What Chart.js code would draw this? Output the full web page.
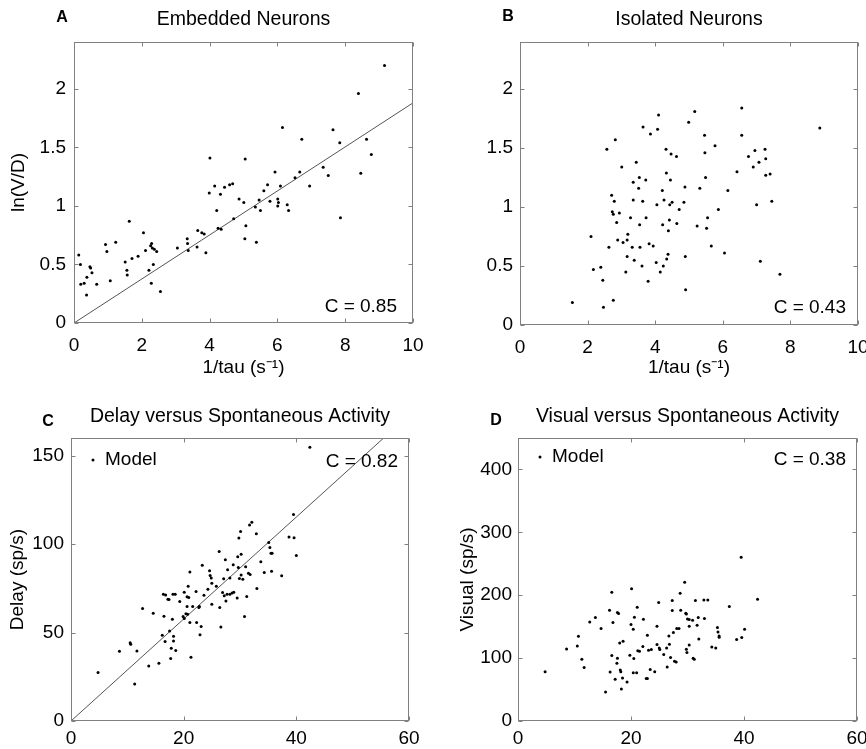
<!DOCTYPE html>
<html>
<head>
<meta charset="utf-8">
<script src="https://cdn.jsdelivr.net/npm/chart.js@4.4.1/dist/chart.umd.min.js"></script>
<style>
  body { margin: 0; background: #fff; }
  #quadro { position: relative; width: 866px; height: 749px; overflow: hidden; background: #fff; }
  canvas { position: absolute; }
</style>
</head>
<body>
<div id="quadro">
  <canvas id="graph_a" width="433" height="385" style="left:0;top:0"></canvas>
  <canvas id="graph_b" width="433" height="385" style="left:433px;top:0"></canvas>
  <canvas id="graph_c" width="433" height="364" style="left:0;top:385px"></canvas>
  <canvas id="graph_d" width="433" height="364" style="left:433px;top:385px"></canvas>
</div>
<script>
// Dados

// A - Embedded Neurons: 1/tau (s^-1) x ln(V/D)
const embX = [0.14, 0.19, 0.20, 0.30, 0.38, 0.37, 0.47, 0.49, 0.53, 0.67, 0.93, 0.97, 1.07, 1.23, 1.51, 1.56, 1.57, 1.63, 1.71, 1.89,
  2.05, 2.11, 2.21, 2.26, 2.29, 2.28, 2.31, 2.34, 2.37, 2.44, 2.55, 3.05, 3.34, 3.35, 3.37, 3.63, 3.65, 3.77, 3.84, 3.89,
  3.99, 4.01, 4.15, 4.21, 4.25, 4.32, 4.34, 4.44, 4.59, 4.68, 4.71, 4.87, 5.01, 5.05, 5.07, 5.04, 5.35, 5.38, 5.46, 5.50,
  5.60, 5.71, 5.78, 5.93, 6.01, 6.03, 6.01, 6.09, 6.15, 6.29, 6.33, 6.52, 6.66, 6.72, 6.95, 7.35, 7.50, 7.64, 7.84, 7.86,
  8.39, 8.46, 8.63, 8.77, 9.16];
const embY = [0.58, 0.50, 0.33, 0.34, 0.39, 0.24, 0.48, 0.47, 0.43, 0.33, 0.67, 0.61, 0.36, 0.69, 0.52, 0.45, 0.41, 0.87, 0.55, 0.57,
  0.77, 0.62, 0.45, 0.66, 0.68, 0.34, 0.64, 0.50, 0.63, 0.61, 0.27, 0.64, 0.72, 0.68, 0.62, 0.65, 0.79, 0.77, 0.76, 0.60,
  1.11, 1.41, 1.17, 0.96, 0.81, 1.10, 0.80, 1.16, 1.18, 1.19, 0.89, 1.06, 1.03, 1.40, 0.83, 0.72, 0.99, 0.69, 1.05, 0.96,
  1.13, 1.18, 1.04, 1.29, 1.06, 1.03, 1.00, 1.17, 1.67, 1.01, 0.96, 1.24, 1.29, 1.57, 1.17, 1.33, 1.26, 1.65, 1.54, 0.90,
  1.96, 1.28, 1.57, 1.44, 2.20];
const retaEmbX = [0, 10];
const retaEmbY = [0, 1.88];

// B - Isolated Neurons
const isoX = [1.55, 2.10, 2.17, 2.39, 2.45, 2.47, 2.57, 2.63, 2.71, 2.73, 2.76, 2.76, 2.79, 2.82, 2.86, 2.89, 2.94, 3.01, 3.05, 3.13,
  3.17, 3.17, 3.19, 3.27, 3.32, 3.35, 3.35, 3.38, 3.44, 3.51, 3.53, 3.54, 3.55, 3.61, 3.63, 3.64, 3.72, 3.73, 3.79, 3.82,
  3.86, 3.94, 4.03, 4.05, 4.07, 4.10, 4.15, 4.21, 4.22, 4.24, 4.26, 4.32, 4.33, 4.34, 4.38, 4.39, 4.42, 4.43, 4.45, 4.47,
  4.50, 4.63, 4.64, 4.71, 4.85, 4.88, 4.89, 4.90, 4.99, 5.17, 5.24, 5.32, 5.46, 5.47, 5.49, 5.52, 5.55, 5.66, 5.77, 5.87,
  6.05, 6.15, 6.42, 6.56, 6.56, 6.76, 6.90, 6.95, 7.00, 7.07, 7.11, 7.25, 7.27, 7.27, 7.40, 7.45, 7.69, 8.87];
const isoY = [0.19, 0.75, 0.47, 0.49, 0.38, 0.15, 1.49, 0.66, 1.10, 0.96, 0.21, 0.94, 1.05, 1.57, 0.87, 0.72, 0.95, 1.34, 0.70, 0.45,
  0.58, 0.72, 0.77, 0.91, 0.66, 1.21, 1.06, 0.55, 1.38, 1.16, 1.25, 0.85, 0.66, 0.50, 1.05, 1.68, 1.23, 0.91, 0.37, 0.69,
  1.62, 0.67, 0.53, 1.02, 1.66, 1.78, 0.45, 1.14, 0.85, 0.50, 1.06, 1.49, 1.29, 0.56, 0.60, 0.80, 0.89, 1.02, 1.23, 1.45,
  1.04, 1.43, 0.86, 0.98, 1.04, 1.17, 0.58, 0.30, 1.72, 1.81, 0.84, 1.16, 1.61, 1.46, 1.25, 0.82, 0.91, 0.67, 1.52, 0.98,
  0.61, 1.14, 1.30, 1.84, 1.61, 1.43, 1.34, 1.48, 1.02, 1.38, 0.54, 1.49, 1.41, 1.27, 1.28, 1.05, 0.43, 1.67];

// C - Delay versus Spontaneous Activity
const delayX = [4.8, 8.6, 10.5, 10.6, 11.3, 11.7, 12.7, 13.8, 14.6, 15.6, 16.2, 16.4, 16.5, 16.7, 16.8, 17.2, 17.4, 17.5, 17.7, 17.8,
  18.0, 18.1, 18.2, 18.2, 18.5, 18.6, 19.3, 19.9, 20.1, 20.1, 20.4, 20.6, 20.6, 20.7, 20.8, 20.9, 21.1, 21.1, 21.3, 21.6,
  22.2, 22.3, 22.7, 22.8, 22.9, 23.1, 23.3, 23.6, 24.3, 24.6, 24.7, 24.9, 25.0, 25.0, 25.8, 26.3, 26.4, 26.6, 26.9, 27.1,
  27.2, 27.4, 27.5, 27.7, 27.8, 28.2, 28.2, 28.6, 28.8, 28.9, 29.5, 29.6, 29.7, 29.8, 29.9, 30.1, 30.2, 30.2, 30.5, 30.8,
  31.0, 31.2, 31.5, 31.7, 31.8, 32.1, 32.9, 33.0, 33.7, 34.3, 35.1, 35.3, 35.5, 35.7, 35.6, 37.4, 38.7, 39.5, 39.6, 40.0, 42.4];
const delayY = [27.4, 39.4, 44.2, 43.4, 20.9, 39.6, 63.6, 31.1, 60.9, 32.6, 48.5, 71.7, 59.2, 44.9, 71.3, 68.9, 68.7, 50.9, 35.3, 41.1,
  57.5, 71.7, 47.9, 45.3, 71.7, 39.8, 67.5, 59.1, 72.8, 57.9, 60.6, 70.2, 64.7, 60.4, 76.2, 69.8, 84.3, 55.7, 36.0, 64.7,
  73.2, 55.7, 64.2, 64.7, 48.7, 53.4, 88.1, 71.1, 74.5, 84.9, 82.3, 80.9, 66.0, 77.9, 76.2, 95.8, 64.2, 53.2, 72.6, 80.4,
  70.8, 91.1, 67.9, 71.7, 85.5, 80.8, 71.7, 72.3, 88.3, 72.8, 69.6, 92.8, 86.8, 103.4, 80.6, 107.2, 82.5, 94.3, 80.2, 59.1,
  87.2, 70.4, 83.6, 110.8, 82.8, 112.3, 105.8, 74.9, 90.0, 84.0, 100.9, 98.1, 94.9, 94.9, 84.7, 82.1, 104.0, 116.8, 103.6, 93.6, 154.7];
const retaDelayX = [0, 55.5];
const retaDelayY = [0, 160];

// D - Visual versus Spontaneous Activity
const visX = [4.8, 8.6, 10.5, 10.7, 11.3, 11.7, 12.7, 13.7, 14.7, 15.5, 16.2, 16.3, 16.6, 16.6, 16.8, 17.2, 17.5, 17.6, 17.8, 17.6,
  18.0, 18.1, 18.2, 18.3, 18.5, 18.6, 19.3, 19.8, 20.0, 20.1, 20.4, 20.4, 20.5, 20.6, 21.0, 21.1, 21.2, 21.5, 22.1, 22.2,
  22.7, 22.9, 22.9, 23.1, 23.4, 23.6, 24.2, 24.6, 24.6, 24.9, 25.0, 25.1, 25.8, 26.3, 26.4, 26.7, 26.8, 27.0, 27.3, 27.3,
  27.5, 27.7, 28.0, 28.1, 28.5, 28.7, 28.8, 29.5, 29.7, 29.8, 29.8, 29.9, 30.0, 30.3, 30.3, 30.3, 30.9, 31.0, 31.2, 31.4,
  31.7, 31.9, 32.0, 32.9, 33.0, 33.6, 34.3, 35.0, 35.3, 35.4, 35.6, 35.6, 37.4, 38.7, 39.5, 39.6, 40.1, 42.4];
const visY = [78.5, 114.6, 119.4, 134.7, 98.1, 84.9, 157.6, 164.5, 146.9, 46.2, 176.1, 78.0, 204.8, 104.0, 156.5, 66.3, 91.8, 172.4, 170.8, 99.7,
  124.1, 81.2, 78.5, 50.9, 68.4, 126.8, 62.1, 104.5, 153.3, 210.1, 145.9, 76.9, 99.2, 165.0, 76.9, 180.9, 111.9, 110.9, 118.3, 161.8,
  67.4, 67.4, 136.3, 112.5, 81.7, 113.5, 78.5, 150.7, 121.5, 188.3, 116.2, 113.5, 105.6, 116.2, 85.9, 135.3, 122.0, 100.8, 191.5, 175.6,
  140.6, 95.0, 93.9, 146.9, 146.9, 203.2, 176.1, 220.7, 171.4, 170.3, 114.1, 108.8, 162.3, 121.0, 150.7, 161.3, 160.2, 99.7, 98.1, 191.5,
  152.3, 164.5, 130.5, 192.6, 162.9, 192.6, 117.8, 116.2, 148.5, 141.6, 135.3, 133.2, 182.0, 129.4, 260.5, 132.6, 145.9, 193.6];

// Marcas dos eixos
const ticksTau = [0, 2, 4, 6, 8, 10];
const ticksLn = [0, 0.5, 1, 1.5, 2];
const ticksSpont = [0, 20, 40, 60];
const ticksDelay = [0, 50, 100, 150];
const ticksVisual = [0, 100, 200, 300, 400];

function juntar(xs, ys) {
  return xs.map((x, i) => ({ x: x, y: ys[i] }));
}

const fonte = "'Liberation Sans', Arial, Helvetica, sans-serif";

// Plugin que desenha a caixa, os ticks internos, a letra, o C e a legenda
const moldura = {
  id: "moldura",
  afterDraw(chart, args, opts) {
    const { ctx, chartArea: a, scales } = chart;
    const l = Math.round(a.left) + 0.5;
    const r = Math.round(a.right) - 0.5;
    const t = Math.round(a.top) + 0.5;
    const b = Math.round(a.bottom) - 0.5;
    ctx.save();
    ctx.strokeStyle = "#808080";
    ctx.lineWidth = 1;
    ctx.strokeRect(l, t, r - l, b - t);
    ctx.beginPath();
    scales.x.ticks.forEach((tk) => {
      const px = Math.round(scales.x.getPixelForValue(tk.value)) + 0.5;
      ctx.moveTo(px, b); ctx.lineTo(px, b - 4);
      ctx.moveTo(px, t); ctx.lineTo(px, t + 4);
    });
    scales.y.ticks.forEach((tk) => {
      const py = Math.round(scales.y.getPixelForValue(tk.value)) + 0.5;
      ctx.moveTo(l, py); ctx.lineTo(l + 4, py);
      ctx.moveTo(r, py); ctx.lineTo(r - 4, py);
    });
    ctx.stroke();

    ctx.fillStyle = "#000";
    ctx.font = "bold 16px " + fonte;
    ctx.textAlign = "center";
    ctx.textBaseline = "middle";
    ctx.fillText(opts.letra, opts.letraX, opts.letraY);

    ctx.font = "19px " + fonte;
    ctx.textAlign = "right";
    ctx.textBaseline = "alphabetic";
    const cy = opts.cEmBaixo ? a.bottom - opts.cDy : a.top + opts.cDy;
    ctx.fillText(opts.textoC, a.right - opts.cDx, cy);

    if (opts.legenda) {
      const ly = a.top + opts.legDy;
      ctx.beginPath();
      ctx.arc(a.left + 22, ly, 1.5, 0, Math.PI * 2);
      ctx.fill();
      ctx.textAlign = "left";
      ctx.textBaseline = "middle";
      ctx.fillText(opts.legenda, a.left + 34, ly);
    }
    ctx.restore();
  },
};

function montarGrafico(idCanvas, pontos, reta, eixos, deco) {
  const datasets = [
    {
      label: "Model",
      data: pontos,
      pointRadius: 1.5,
      pointBackgroundColor: "#000",
      pointBorderWidth: 0,
      order: 1,
    },
  ];
  if (reta) {
    datasets.push({
      label: "fit",
      data: reta,
      showLine: true,
      borderColor: "#555",
      borderWidth: 1,
      pointRadius: 0,
      order: 2,
    });
  }

  return new Chart(document.getElementById(idCanvas), {
    type: "scatter",
    data: { datasets: datasets },
    plugins: [moldura],
    options: {
      responsive: false,
      animation: false,
      events: [],
      layout: { padding: { left: 0, right: deco.padRight, top: 0, bottom: 0 } },
      scales: {
        x: {
          type: "linear",
          min: eixos.xMin,
          max: eixos.xMax,
          grid: { display: false, drawTicks: false },
          border: { display: false },
          afterBuildTicks: (s) => { s.ticks = eixos.xTicks.map((v) => ({ value: v })); },
          afterFit: (s) => { s.height = eixos.xAltura; s.paddingLeft = 0; s.paddingRight = 0; },
          ticks: {
            autoSkip: false,
            maxRotation: 0,
            color: "#000",
            padding: eixos.xPad,
            font: { family: fonte, size: 19 },
            callback: (v) => String(v),
          },
          title: {
            display: !!eixos.xTitulo,
            text: eixos.xTitulo,
            color: "#000",
            font: { family: fonte, size: 19 },
            padding: { top: 0, bottom: 5.6 },
          },
        },
        y: {
          type: "linear",
          min: eixos.yMin,
          max: eixos.yMax,
          grid: { display: false, drawTicks: false },
          border: { display: false },
          afterBuildTicks: (s) => { s.ticks = eixos.yTicks.map((v) => ({ value: v })); },
          afterFit: (s) => { s.width = eixos.yLargura; s.paddingTop = 0; s.paddingBottom = 0; },
          ticks: {
            autoSkip: false,
            color: "#000",
            padding: eixos.yPad,
            font: { family: fonte, size: 19 },
            callback: (v) => String(v),
          },
          title: {
            display: !!eixos.yTitulo,
            text: eixos.yTitulo,
            color: "#000",
            font: { family: fonte, size: 19 },
            padding: { top: eixos.yTitPad, bottom: 0 },
          },
        },
      },
      plugins: {
        legend: { display: false },
        tooltip: { enabled: false },
        title: {
          display: true,
          text: deco.titulo,
          fullSize: false,
          color: "#000",
          font: { family: fonte, size: 19.5, weight: "normal" },
          padding: { top: deco.titPadTop, bottom: deco.titPadBottom },
        },
        moldura: deco.moldura,
      },
    },
  });
}

// A
montarGrafico("graph_a", juntar(embX, embY), juntar(retaEmbX, retaEmbY),
  { xMin: 0, xMax: 10, yMin: 0, yMax: 2.4, xTicks: ticksTau, yTicks: ticksLn, xAltura: 62, yLargura: 74,
    xPad: 11, yPad: 8, xTitulo: "1/tau (s\u207B\u00B9)", yTitulo: "ln(V/D)", yTitPad: 7.6 },
  { padRight: 20, titulo: "Embedded Neurons", titPadTop: 8.3, titPadBottom: 10.3,
    moldura: { letra: "A", letraX: 62, letraY: 18, textoC: "C = 0.85", cEmBaixo: true, cDx: 16, cDy: 11 } });

// B
montarGrafico("graph_b", juntar(isoX, isoY), null,
  { xMin: 0, xMax: 10, yMin: 0, yMax: 2.4, xTicks: ticksTau, yTicks: ticksLn, xAltura: 60, yLargura: 87,
    xPad: 11, yPad: 7, xTitulo: "1/tau (s\u207B\u00B9)", yTitulo: "", yTitPad: 0 },
  { padRight: 8, titulo: "Isolated Neurons", titPadTop: 8.3, titPadBottom: 10.3,
    moldura: { letra: "B", letraX: 75, letraY: 17, textoC: "C = 0.43", cEmBaixo: true, cDx: 12, cDy: 12 } });

// C
montarGrafico("graph_c", juntar(delayX, delayY), juntar(retaDelayX, retaDelayY),
  { xMin: 0, xMax: 60, yMin: 0, yMax: 160, xTicks: ticksSpont, yTicks: ticksDelay, xAltura: 28, yLargura: 71,
    xPad: 6, yPad: 7, xTitulo: "", yTitulo: "Delay (sp/s)", yTitPad: 6.6 },
  { padRight: 24, titulo: "Delay versus Spontaneous Activity", titPadTop: 20.3, titPadBottom: 9.3,
    moldura: { letra: "C", letraX: 48, letraY: 37, textoC: "C = 0.82", cEmBaixo: false, cDx: 11, cDy: 29, legenda: "Model", legDy: 22 } });

// D
montarGrafico("graph_d", juntar(visX, visY), null,
  { xMin: 0, xMax: 60, yMin: 0, yMax: 450, xTicks: ticksSpont, yTicks: ticksVisual, xAltura: 28, yLargura: 85,
    xPad: 6, yPad: 6, xTitulo: "", yTitulo: "Visual (sp/s)", yTitPad: 23.6 },
  { padRight: 9, titulo: "Visual versus Spontaneous Activity", titPadTop: 20.3, titPadBottom: 9.3,
    moldura: { letra: "D", letraX: 63, letraY: 36, textoC: "C = 0.38", cEmBaixo: false, cDx: 11, cDy: 27, legenda: "Model", legDy: 19 } });
</script>
</body>
</html>
